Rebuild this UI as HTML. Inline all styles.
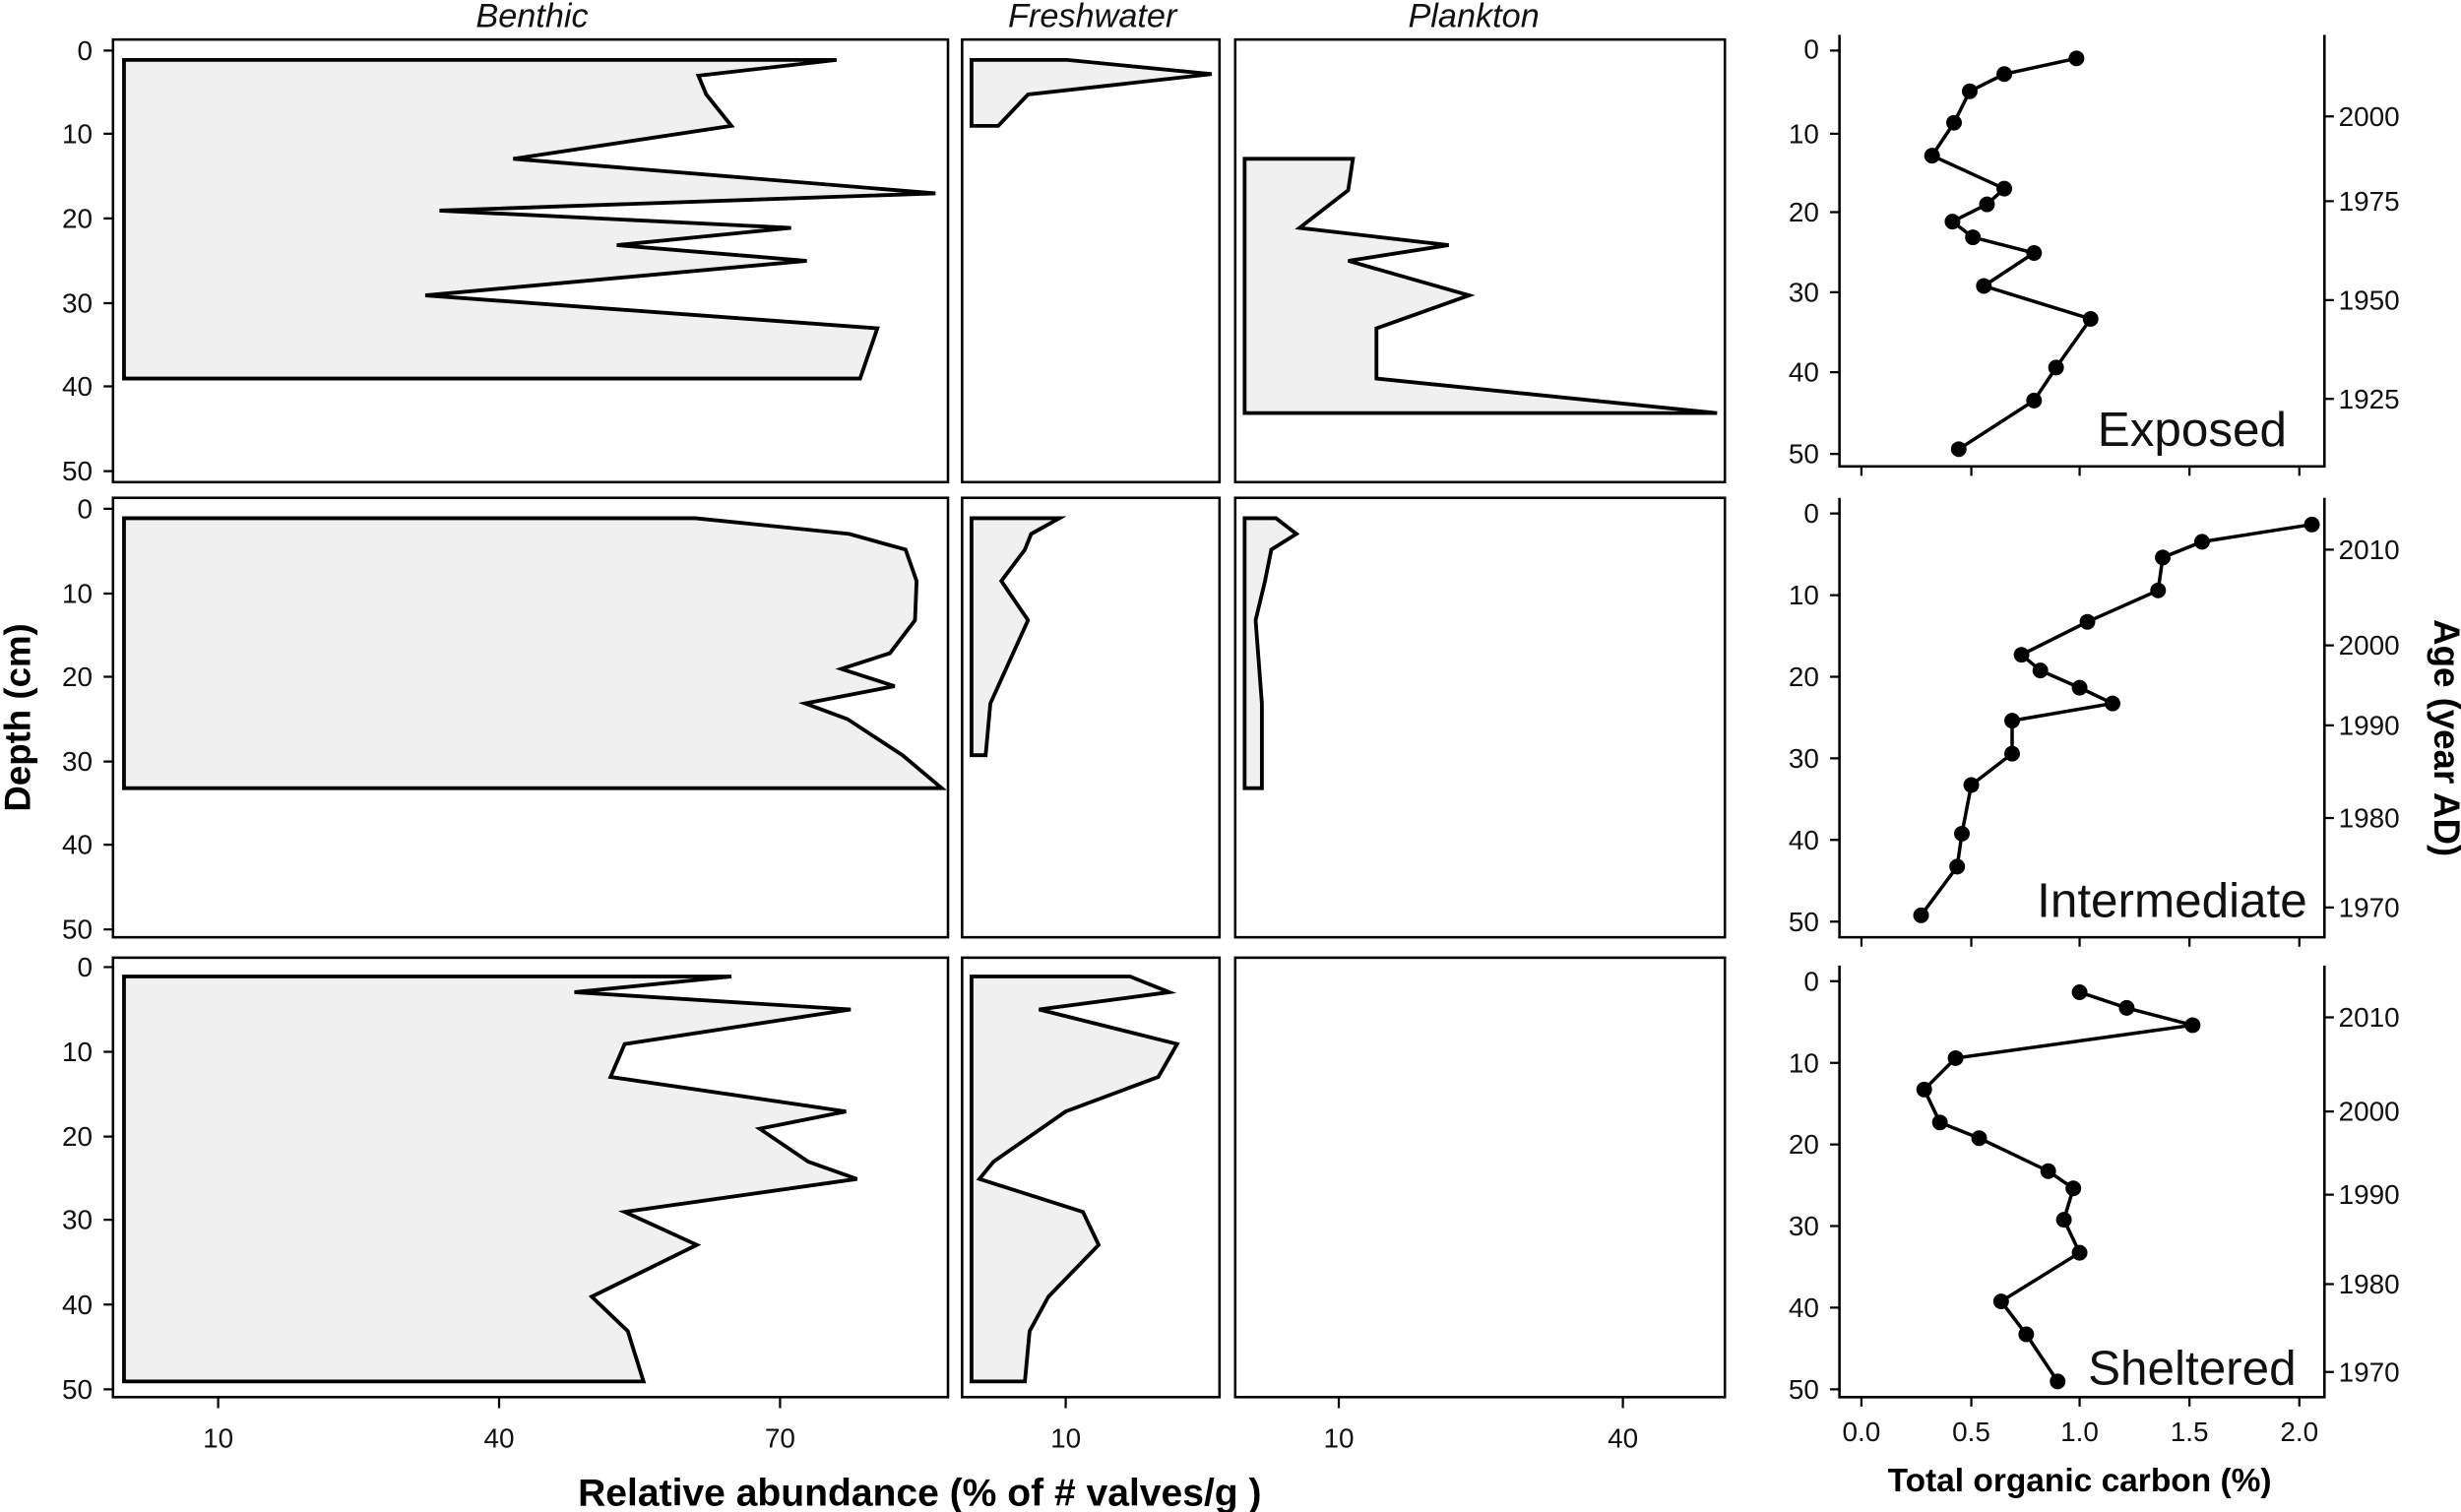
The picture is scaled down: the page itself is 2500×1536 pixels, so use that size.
<!DOCTYPE html>
<html><head><style>html,body{margin:0;padding:0;background:#fff}svg{display:block}</style></head>
<body>
<svg width="2500" height="1536" viewBox="0 0 1568 963" xmlns="http://www.w3.org/2000/svg" font-family="Liberation Sans, Arial, sans-serif">
<g fill="none" stroke="#000" stroke-width="1.6">
<rect x="72" y="25" width="532" height="282"/><rect x="613" y="25" width="164" height="282"/><rect x="787" y="25" width="312" height="282"/>
<rect x="72" y="317" width="532" height="280"/><rect x="613" y="317" width="164" height="280"/><rect x="787" y="317" width="312" height="280"/>
<rect x="72" y="610" width="532" height="280"/><rect x="613" y="610" width="164" height="280"/><rect x="787" y="610" width="312" height="280"/>
</g>
<g fill="#f0f0f0" stroke="#000" stroke-width="2.4" stroke-linejoin="miter">
<polygon points="79,38 533,38 445,48 450,60 466,80 327,101 596,123 280,134 504,145 393,156 514,166 271,188 559,209 548,241 79,241"/>
<polygon points="619,38 680,38 772,47 655,60 636,80 619,80"/>
<polygon points="793,101 862,101 859,121 828,145 923,156 859,166 936,188 877,209 877,241 1094,263 793,263"/>
<polygon points="79,330 443,330 541,340 577,350 584,370 583,395 567,416 536,426 570,437 513,448 540,458 575,481 600,502 79,502"/>
<polygon points="619,330 675,330 657,340 653,350 638,370 655,395 631,448 628,481 619,481"/>
<polygon points="793,330 813,330 826,340 810,350 806,370 800,395 804,448 804,502 793,502"/>
<polygon points="79,622 466,622 366,632 542,643 398,665 389,686 539,708 484,719 515,740 546,751 398,772 444,793 377,826 400,848 410,880 79,880"/>
<polygon points="619,622 720,622 745,632 662,643 750,665 738,686 679,708 633,740 624,751 690,772 700,793 668,826 656,848 653,880 619,880"/>
</g>
<g stroke="#000" stroke-width="1.4">
<path d="M66,32H72M66,85H72M66,139H72M66,193H72M66,246H72M66,300H72"/>
<path d="M66,324H72M66,378H72M66,431H72M66,485H72M66,538H72M66,592H72"/>
<path d="M66,616H72M66,670H72M66,724H72M66,777H72M66,831H72M66,885H72"/>
<path d="M139,890V897M318,890V897M497,890V897M679,890V897M853,890V897M1034,890V897"/>
</g>
<g font-size="17.5" text-anchor="end" fill="#111">
<text x="59" y="38">0</text><text x="59" y="91">10</text><text x="59" y="145">20</text><text x="59" y="199">30</text><text x="59" y="252">40</text><text x="59" y="306">50</text>
<text x="59" y="330">0</text><text x="59" y="384">10</text><text x="59" y="437">20</text><text x="59" y="491">30</text><text x="59" y="544">40</text><text x="59" y="598">50</text>
<text x="59" y="622">0</text><text x="59" y="676">10</text><text x="59" y="730">20</text><text x="59" y="783">30</text><text x="59" y="837">40</text><text x="59" y="891">50</text>
</g>
<g font-size="17.5" text-anchor="middle" fill="#111">
<text x="139" y="922">10</text><text x="318" y="922">40</text><text x="497" y="922">70</text><text x="679" y="922">10</text><text x="853" y="922">10</text><text x="1034" y="922">40</text>
</g>
<g font-size="21.5" font-style="italic" text-anchor="middle" fill="#111">
<text x="339" y="17">Benthic</text><text x="696" y="17">Freshwater</text><text x="939" y="17">Plankton</text>
</g>
<text x="586" y="959" font-size="24.5" font-weight="bold" text-anchor="middle">Relative abundance (% of # valves/g )</text>
<text transform="translate(19,457) rotate(-90)" font-size="23" font-weight="bold" text-anchor="middle">Depth (cm)</text>
<text transform="translate(1551,470) rotate(90)" font-size="23" font-weight="bold" text-anchor="middle">Age (year AD)</text>
<text x="1325" y="950" font-size="21" font-weight="bold" text-anchor="middle">Total organic carbon (%)</text>
<g fill="none" stroke="#000" stroke-width="1.6">
<path d="M1172,22V297H1481V22"/><path d="M1172,317V597H1481V317"/><path d="M1172,615V890H1481V615"/>
</g>
<g stroke="#000" stroke-width="1.4">
<path d="M1166,32H1172M1166,85H1172M1166,135H1172M1166,186H1172M1166,237H1172M1166,289H1172"/>
<path d="M1166,327H1172M1166,379H1172M1166,431H1172M1166,483H1172M1166,535H1172M1166,587H1172"/>
<path d="M1166,625H1172M1166,677H1172M1166,729H1172M1166,781H1172M1166,833H1172M1166,885H1172"/>
<path d="M1481,74H1487M1481,128H1487M1481,191H1487M1481,254H1487"/>
<path d="M1481,350H1487M1481,411H1487M1481,462H1487M1481,521H1487M1481,578H1487"/>
<path d="M1481,648H1487M1481,708H1487M1481,761H1487M1481,818H1487M1481,874H1487"/>
<path d="M1186,297V303M1256,297V303M1325,297V303M1395,297V303M1465,297V303"/>
<path d="M1186,597V603M1256,597V603M1325,597V603M1395,597V603M1465,597V603"/>
<path d="M1186,890V896M1256,890V896M1325,890V896M1395,890V896M1465,890V896"/>
</g>
<g font-size="17.5" text-anchor="end" fill="#111">
<text x="1159" y="37">0</text><text x="1159" y="91">10</text><text x="1159" y="141">20</text><text x="1159" y="192">30</text><text x="1159" y="243">40</text><text x="1159" y="295">50</text>
<text x="1159" y="333">0</text><text x="1159" y="385">10</text><text x="1159" y="437">20</text><text x="1159" y="489">30</text><text x="1159" y="541">40</text><text x="1159" y="593">50</text>
<text x="1159" y="631">0</text><text x="1159" y="683">10</text><text x="1159" y="735">20</text><text x="1159" y="787">30</text><text x="1159" y="839">40</text><text x="1159" y="891">50</text>
</g>
<g font-size="17.5" fill="#111">
<text x="1490" y="80">2000</text><text x="1490" y="134">1975</text><text x="1490" y="197">1950</text><text x="1490" y="260">1925</text>
<text x="1490" y="356">2010</text><text x="1490" y="417">2000</text><text x="1490" y="468">1990</text><text x="1490" y="527">1980</text><text x="1490" y="584">1970</text>
<text x="1490" y="654">2010</text><text x="1490" y="714">2000</text><text x="1490" y="767">1990</text><text x="1490" y="824">1980</text><text x="1490" y="880">1970</text>
</g>
<g font-size="17.5" text-anchor="middle" fill="#111">
<text x="1186" y="918">0.0</text><text x="1256" y="918">0.5</text><text x="1325" y="918">1.0</text><text x="1395" y="918">1.5</text><text x="1465" y="918">2.0</text>
</g>
<g fill="none" stroke="#000" stroke-width="2.2">
<polyline points="1323,37 1277,47 1255,58 1245,78 1231,99 1277,120 1266,130 1244,141 1257,151 1296,161 1264,182 1332,203 1310,234 1296,255 1248,286"/>
<polyline points="1473,334 1403,345 1378,355 1375,376 1330,396 1288,417 1300,427 1325,438 1346,448 1282,459 1282,480 1256,500 1250,531 1247,552 1224,583"/>
<polyline points="1325,632 1355,642 1397,653 1246,674 1226,694 1236,715 1261,725 1305,746 1321,757 1315,777 1325,798 1275,829 1291,850 1311,880"/>
</g>
<g fill="#000">
<circle cx="1323" cy="37" r="5"/><circle cx="1277" cy="47" r="5"/><circle cx="1255" cy="58" r="5"/><circle cx="1245" cy="78" r="5"/><circle cx="1231" cy="99" r="5"/><circle cx="1277" cy="120" r="5"/><circle cx="1266" cy="130" r="5"/><circle cx="1244" cy="141" r="5"/><circle cx="1257" cy="151" r="5"/><circle cx="1296" cy="161" r="5"/><circle cx="1264" cy="182" r="5"/><circle cx="1332" cy="203" r="5"/><circle cx="1310" cy="234" r="5"/><circle cx="1296" cy="255" r="5"/><circle cx="1248" cy="286" r="5"/>
<circle cx="1473" cy="334" r="5"/><circle cx="1403" cy="345" r="5"/><circle cx="1378" cy="355" r="5"/><circle cx="1375" cy="376" r="5"/><circle cx="1330" cy="396" r="5"/><circle cx="1288" cy="417" r="5"/><circle cx="1300" cy="427" r="5"/><circle cx="1325" cy="438" r="5"/><circle cx="1346" cy="448" r="5"/><circle cx="1282" cy="459" r="5"/><circle cx="1282" cy="480" r="5"/><circle cx="1256" cy="500" r="5"/><circle cx="1250" cy="531" r="5"/><circle cx="1247" cy="552" r="5"/><circle cx="1224" cy="583" r="5"/>
<circle cx="1325" cy="632" r="5"/><circle cx="1355" cy="642" r="5"/><circle cx="1397" cy="653" r="5"/><circle cx="1246" cy="674" r="5"/><circle cx="1226" cy="694" r="5"/><circle cx="1236" cy="715" r="5"/><circle cx="1261" cy="725" r="5"/><circle cx="1305" cy="746" r="5"/><circle cx="1321" cy="757" r="5"/><circle cx="1315" cy="777" r="5"/><circle cx="1325" cy="798" r="5"/><circle cx="1275" cy="829" r="5"/><circle cx="1291" cy="850" r="5"/><circle cx="1311" cy="880" r="5"/>
</g>
<g font-size="31" text-anchor="end" fill="#111">
<text x="1457" y="284">Exposed</text><text x="1470" y="584">Intermediate</text><text x="1463" y="882">Sheltered</text>
</g>
</svg>
</body></html>
